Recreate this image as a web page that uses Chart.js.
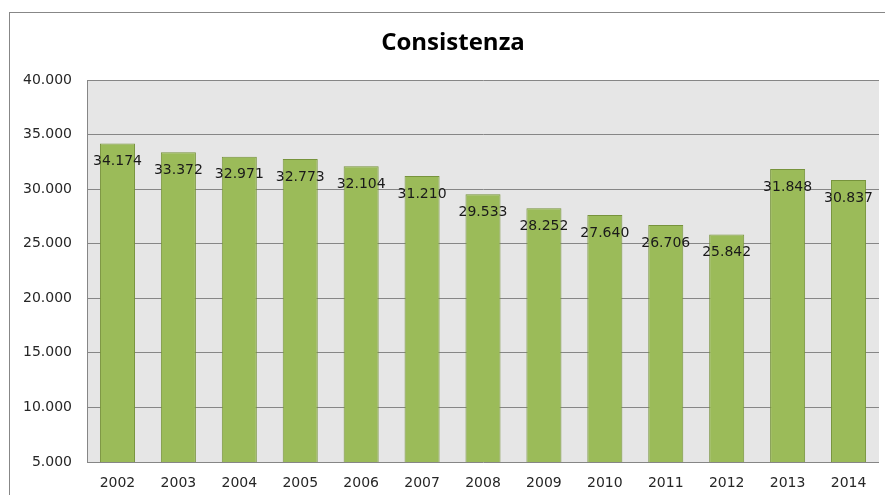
<!DOCTYPE html>
<html>
<head>
<meta charset="utf-8">
<script src="https://cdn.jsdelivr.net/npm/chart.js@4"></script>
<style>
  html, body { margin: 0; padding: 0; background: #fff; }
  #wrap { width: 885px; height: 495px; }
</style>
</head>
<body>
<div id="wrap"><canvas id="chart" width="885" height="495"></canvas></div>
<script>
// dati
const titolo = 'Consistenza';
const anni = ['2002', '2003', '2004', '2005', '2006', '2007', '2008', '2009', '2010', '2011', '2012', '2013', '2014'];
const consistenza = [34174, 33372, 32971, 32773, 32104, 31210, 29533, 28252, 27640, 26706, 25842, 31848, 30837];
const yTicks = [5000, 10000, 15000, 20000, 25000, 30000, 35000, 40000];

// formato italiano con punto per le migliaia
function fmtNum(v) {
    const s = String(Math.round(v));
    return s.replace(/\B(?=(\d{3})+(?!\d))/g, '.');
}

// sfondo grigio dell'area del grafico, bordo esterno e titolo
const sfondo = {
    id: 'sfondo',
    beforeDraw(chart) {
        const ctx = chart.ctx;
        const a = chart.chartArea;
        ctx.save();
        ctx.fillStyle = '#fff';
        ctx.fillRect(0, 0, chart.width, chart.height);
        ctx.strokeStyle = '#878787';
        ctx.lineWidth = 1;
        ctx.strokeRect(9.5, 12.5, 900, 600);
        ctx.fillStyle = '#e6e6e6';
        ctx.fillRect(a.left, a.top, a.right - a.left, a.bottom - a.top);
        // titolo centrato sul riquadro esterno
        ctx.font = 'bold 24px "Open Sans"';
        ctx.fillStyle = '#000';
        ctx.textAlign = 'center';
        ctx.textBaseline = 'middle';
        ctx.fillText(titolo, 453, 43);
        ctx.restore();
    }
};

// etichette dei valori dentro le barre
const etichette = {
    id: 'etichette',
    afterDatasetsDraw(chart) {
        const ctx = chart.ctx;
        const meta = chart.getDatasetMeta(0);
        ctx.save();
        ctx.font = '14px "DejaVu Sans"';
        ctx.fillStyle = '#1a1a1a';
        ctx.textAlign = 'center';
        ctx.textBaseline = 'middle';
        meta.data.forEach(function(bar, i) {
            ctx.fillText(fmtNum(consistenza[i]), bar.x, bar.y + 18);
        });
        ctx.restore();
    }
};

const ctx = document.getElementById('chart').getContext('2d');
new Chart(ctx, {
    type: 'bar',
    data: {
        labels: anni,
        datasets: [{
            label: titolo,
            data: consistenza,
            backgroundColor: '#9bbb59',
            borderColor: '#77933c',
            borderWidth: 1,
            borderSkipped: false,
            barPercentage: 0.575,
            categoryPercentage: 1.0
        }]
    },
    options: {
        responsive: false,
        animation: false,
        layout: { padding: { left: 0, right: 6, top: 80, bottom: 0 } },
        plugins: {
            legend: { display: false },
            tooltip: { enabled: false },
            title: { display: false }
        },
        scales: {
            x: {
                grid: { display: false, drawTicks: false },
                border: { display: false },
                ticks: {
                    color: '#262626',
                    font: { family: '"DejaVu Sans"', size: 14 },
                    padding: 13,
                    maxRotation: 0
                },
                afterFit(scale) { scale.height = 33; }
            },
            y: {
                min: 5000,
                max: 40000,
                afterBuildTicks(scale) {
                    scale.ticks = yTicks.map(v => ({ value: v }));
                },
                grid: { color: '#868686', lineWidth: 1, drawTicks: false },
                border: { display: true, color: '#868686' },
                ticks: {
                    color: '#262626',
                    font: { family: '"DejaVu Sans"', size: 14 },
                    padding: 15,
                    callback: v => fmtNum(v)
                },
                afterFit(scale) { scale.width = 87; }
            }
        }
    },
    plugins: [sfondo, etichette]
});
</script>
</body>
</html>
